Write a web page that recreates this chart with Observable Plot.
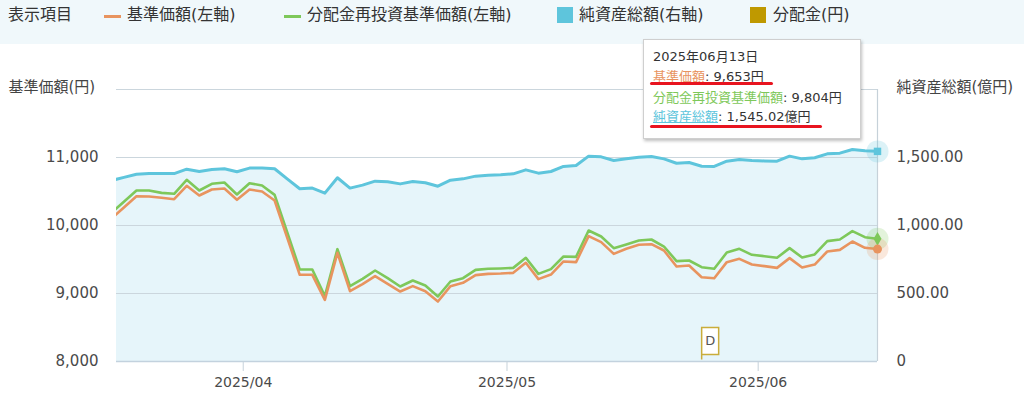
<!DOCTYPE html>
<html><head><meta charset="utf-8">
<script src="https://cdn.jsdelivr.net/npm/d3@7"></script>
<script src="https://cdn.jsdelivr.net/npm/@observablehq/plot@0.6"></script>
<style>
body{margin:0;background:#fff;font-family:"DejaVu Sans","Noto Sans CJK JP",sans-serif;}
#wrap{position:relative;width:1024px;height:398px;overflow:hidden;}
#legend{position:relative;height:44px;background:#f0f8fb;font-size:16px;color:#333;}
#legend .t{position:absolute;top:3px;line-height:24px;white-space:nowrap;}
#legend .ln{position:absolute;top:15px;height:3px;width:17px;}
#legend .sq{position:absolute;top:7px;width:16px;height:16px;}
#tip{position:absolute;left:643px;top:39px;width:216px;height:98px;background:#fff;border:1px solid #cfcfcf;box-shadow:1px 2px 3px rgba(0,0,0,0.25);font-size:13px;line-height:20px;color:#333;box-sizing:content-box;}
#tip .row{position:absolute;left:9px;white-space:nowrap;}
.red{position:absolute;height:3px;background:#e8141f;border-radius:2px;}
</style>
</head><body>
<div id="wrap">
<div id="legend"></div>
<div id="chart"></div>
<div id="tip"></div>
</div>
<script>
// ---- data ----
const dates = ["2025-03-14","2025-03-17","2025-03-18","2025-03-19","2025-03-21","2025-03-24","2025-03-25","2025-03-26","2025-03-27","2025-03-28",
"2025-03-31","2025-04-01","2025-04-02","2025-04-03","2025-04-04","2025-04-07","2025-04-08","2025-04-09","2025-04-10","2025-04-11",
"2025-04-14","2025-04-15","2025-04-16","2025-04-17","2025-04-18","2025-04-21","2025-04-22","2025-04-23","2025-04-24","2025-04-25",
"2025-04-28","2025-04-30","2025-05-01","2025-05-02","2025-05-07","2025-05-08","2025-05-09","2025-05-12","2025-05-13","2025-05-14",
"2025-05-15","2025-05-16","2025-05-19","2025-05-20","2025-05-21","2025-05-22","2025-05-23","2025-05-26","2025-05-27","2025-05-28",
"2025-05-29","2025-05-30","2025-06-02","2025-06-03","2025-06-04","2025-06-05","2025-06-06","2025-06-09","2025-06-10","2025-06-11",
"2025-06-12","2025-06-13"];
const kijun = [10103,10266,10431,10426,10407,10387,10584,10441,10529,10544,
10378,10529,10500,10368,9821,9275,9275,8907,9598,9034,
9137,9255,9142,9029,9108,9034,8882,9108,9157,9270,
9289,9294,9304,9451,9211,9279,9471,9461,9843,9755,
9583,9657,9716,9725,9632,9397,9412,9240,9225,9461,
9510,9426,9402,9377,9520,9382,9426,9618,9642,9765,
9672,9653];
const reinvest = [10186,10350,10515,10515,10480,10466,10672,10515,10613,10632,
10456,10622,10588,10451,9902,9353,9353,8961,9652,9108,
9216,9338,9225,9103,9191,9118,8956,9176,9225,9348,
9363,9368,9377,9525,9289,9358,9544,9539,9926,9838,
9667,9721,9779,9794,9691,9476,9485,9387,9363,9603,
9657,9569,9549,9525,9667,9529,9574,9770,9794,9917,
9828,9804];
const netAssets = [1330,1354,1377,1382,1382,1382,1414,1397,1412,1417,
1395,1422,1422,1417,1343,1270,1275,1238,1351,1275,
1297,1326,1321,1306,1324,1314,1289,1333,1343,1363,
1370,1373,1380,1409,1385,1397,1434,1441,1510,1505,
1478,1490,1502,1507,1490,1458,1463,1436,1434,1473,
1485,1478,1475,1473,1510,1490,1498,1527,1532,1559,
1549,1545.02];
const distributionDates = ["2025-05-26"];
const leftTicks = [8000, 9000, 10000, 11000];
const gridLines = [9000, 10000, 11000, 12000];

// ---- colours ----
const C_ORANGE = "#e8945f", C_GREEN = "#7ec85a", C_BLUE = "#5ec5dc", C_GOLD = "#bf9900";
const FONT = '"DejaVu Sans","Noto Sans CJK JP",sans-serif';

// right axis (億円) mapped onto left axis (円): 0 -> 8000, 2000 -> 12000
const toLeft = v => 8000 + 2 * v;

const rows = dates.map((d, i) => ({i, date: d, kijun: kijun[i], reinvest: reinvest[i], nav: netAssets[i]}));
const last = rows[rows.length - 1];
const dist = distributionDates.map(d => ({i: dates.indexOf(d), date: d}));

// month boundary ticks
const monthTicks = [], monthLabel = new Map();
for (let i = 1; i < dates.length; i++) {
  if (dates[i].slice(5, 7) !== dates[i - 1].slice(5, 7)) {
    monthTicks.push(i - 0.5);
    monthLabel.set(i - 0.5, dates[i].slice(0, 7).replace("-", "/"));
  }
}

// ---- legend ----
const legend = document.getElementById("legend");
legend.innerHTML = `
<span class="t" style="left:8px">表示項目</span>
<span class="ln" style="left:104px;background:${C_ORANGE}"></span><span class="t" style="left:127px">基準価額(左軸)</span>
<span class="ln" style="left:284px;background:${C_GREEN}"></span><span class="t" style="left:307px">分配金再投資基準価額(左軸)</span>
<span class="sq" style="left:557px;background:${C_BLUE}"></span><span class="t" style="left:579px">純資産総額(右軸)</span>
<span class="sq" style="left:750px;background:${C_GOLD}"></span><span class="t" style="left:773px">分配金(円)</span>`;

// ---- chart ----
const flagSymbol = {
  draw(ctx) {
    ctx.moveTo(0, -2); ctx.lineTo(0, -34); ctx.lineTo(17, -34); ctx.lineTo(17, -7); ctx.lineTo(0, -7);
  }
};
const lastIdx = last.i;
const chart = Plot.plot({
  width: 1024, height: 354,
  marginLeft: 116, marginRight: 147, marginTop: 45, marginBottom: 37,
  x: {type: "linear", domain: [lastIdx - 60.59, lastIdx], axis: null},
  y: {domain: [8000, 12000], axis: null},
  style: {fontFamily: FONT, fontSize: "15px", color: "#4a4a4a", background: "transparent", overflow: "visible"},
  marks: [
    Plot.areaY(rows, {x: "i", y1: () => 8000, y2: d => toLeft(d.nav), fill: "#e6f5fa", clip: true}),
    Plot.ruleY(gridLines, {stroke: "#cbd6dd", strokeWidth: 1.2}),
    Plot.ruleY([8000], {stroke: "#c3d2de", strokeWidth: 1.6}),
    Plot.ruleX([last], {x: "i", y1: () => 8000, y2: () => 12000, stroke: "#c6d1d9", strokeWidth: 1.2}),
    Plot.line(rows, {x: "i", y: d => toLeft(d.nav), stroke: C_BLUE, strokeWidth: 3, clip: true}),
    Plot.line(rows, {x: "i", y: "reinvest", stroke: C_GREEN, strokeWidth: 2.6, clip: true}),
    Plot.line(rows, {x: "i", y: "kijun", stroke: C_ORANGE, strokeWidth: 2.6, clip: true}),
    // hover markers
    Plot.dot([last], {x: "i", y: d => toLeft(d.nav), r: 11, fill: C_BLUE, fillOpacity: 0.22}),
    Plot.dot([last], {x: "i", y: "reinvest", r: 11, fill: C_GREEN, fillOpacity: 0.22}),
    Plot.dot([last], {x: "i", y: "kijun", r: 11, fill: C_ORANGE, fillOpacity: 0.22}),
    Plot.dot([last], {x: "i", y: d => toLeft(d.nav), r: 4.2, symbol: "square", fill: C_BLUE}),
    Plot.dot([last], {x: "i", y: "reinvest", r: 4.2, symbol: "diamond", fill: C_GREEN}),
    Plot.dot([last], {x: "i", y: "kijun", r: 4.5, fill: C_ORANGE}),
    // distribution flag
    Plot.dot(dist, {x: "i", y: () => 8000, symbol: flagSymbol, fill: "#fff", stroke: "#c9ad3a", strokeWidth: 1.5}),
    Plot.text(dist, {x: "i", y: () => 8000, text: () => "D", dx: 8.5, dy: -20.5, fontSize: 13, fill: "#555"}),
    // axes
    Plot.axisY({anchor: "left", ticks: leftTicks, tickSize: 0, tickPadding: 18, tickFormat: d3.format(","), label: null, fontSize: 15}),
    Plot.axisY({anchor: "right", ticks: leftTicks, tickSize: 0, tickPadding: 19, label: null, fontSize: 15,
      tickFormat: d => { const v = (d - 8000) / 2; return v === 0 ? "0" : d3.format(",.2f")(v); }}),
    Plot.axisX({ticks: monthTicks, tickSize: 10, tickPadding: 6, stroke: "#c6d2db", tickFormat: t => monthLabel.get(t), label: null, fontSize: 14}),
    Plot.text(["基準価額(円)"], {frameAnchor: "top-left", dx: -108, dy: -2, textAnchor: "start", lineAnchor: "middle", fontSize: 15, fill: "#444"}),
    Plot.text(["純資産総額(億円)"], {frameAnchor: "top-right", dx: 19, dy: -2, textAnchor: "start", lineAnchor: "middle", fontSize: 15, fill: "#444"})
  ]
});
document.getElementById("chart").appendChild(chart);

// ---- tooltip ----
const [yy, mm, dd] = last.date.split("-");
const tip = document.getElementById("tip");
tip.innerHTML = `
<div class="row" style="top:7px">${yy}年${mm}月${dd}日</div>
<div class="row" style="top:27px"><span style="color:${C_ORANGE};text-decoration:underline">基準価額</span>: ${d3.format(",")(last.kijun)}円</div>
<div class="row" style="top:48px"><span style="color:${C_GREEN}">分配金再投資基準価額</span>: ${d3.format(",")(last.reinvest)}円</div>
<div class="row" style="top:67px"><span style="color:${C_BLUE};text-decoration:underline">純資産総額</span>: ${d3.format(",.2f")(last.nav)}億円</div>`;
const wrap = document.getElementById("wrap");
[[650, 82, 123], [650, 125, 172]].forEach(([l, t, w]) => {
  const r = document.createElement("div");
  r.className = "red"; r.style.left = l + "px"; r.style.top = t + "px"; r.style.width = w + "px";
  wrap.appendChild(r);
});
</script>
</body></html>
